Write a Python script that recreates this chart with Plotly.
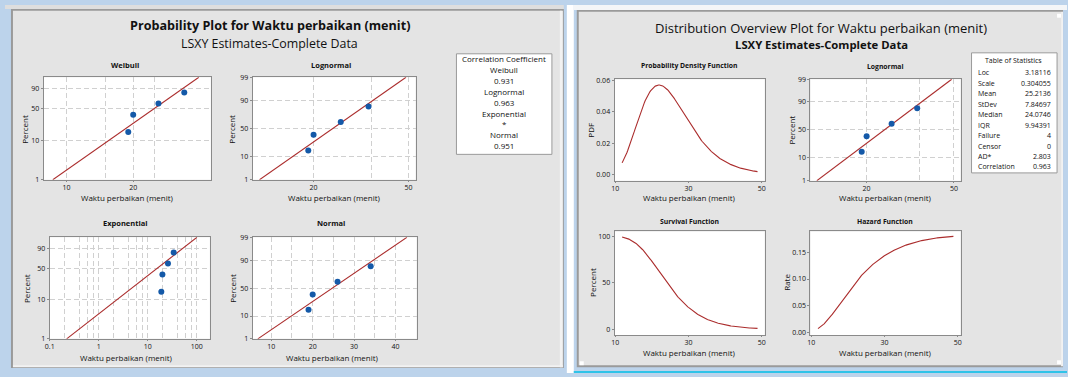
import math
import plotly.graph_objects as go

W, H = 1068, 377
FONT = "Open Sans"

# ---- data ----
waktu = [19, 20, 26, 34]                      # repair times (minutes)
dist_names = ["Weibull", "Lognormal", "Exponential", "Normal"]
corr_values = ["0.931", "0.963", "*", "0.951"]
stat_labels = ["Loc", "Scale", "Mean", "StDev", "Median", "IQR",
               "Failure", "Censor", "AD*", "Correlation"]
stat_values = ["3.18116", "0.304055", "25.2136", "7.84697", "24.0746",
               "9.94391", "4", "0", "2.803", "0.963"]
ln_loc, ln_scale = 3.18116, 0.304055
pct_ticks_full = [1, 10, 50, 90, 99]
pct_ticks_ev = [1, 10, 50, 90]

RED = "#ab2d2d"
BLUE = "#1459a8"
GRID = "#d0d0d0"
DASH = "5px,3px"
FRAME = "#8a8a8a"
PANEL = "#e4e4e4"
TXT = "#111111"


# ---- probability helpers ----
def norm_cdf(z):
    return 0.5 * (1 + math.erf(z / math.sqrt(2)))


def norm_ppf(p):
    lo, hi = -10.0, 10.0
    for _ in range(100):
        mid = 0.5 * (lo + hi)
        if norm_cdf(mid) < p:
            lo = mid
        else:
            hi = mid
    return 0.5 * (lo + hi)


def sev(p):
    return math.log(-math.log(1 - p))


n = len(waktu)
xs = sorted(waktu)
ranks = [(i + 1 - 0.3) / (n + 0.4) for i in range(n)]       # median ranks
zr = [norm_ppf(r) for r in ranks]
wr = [sev(r) for r in ranks]
lnx = [math.log(v) for v in xs]


def lsxy(xv, yv):
    mx, my = sum(xv) / len(xv), sum(yv) / len(yv)
    sxy = sum((a - mx) * (b - my) for a, b in zip(xv, yv))
    sxx = sum((b - my) ** 2 for b in yv)
    slope = sxy / sxx
    return mx - slope * my, slope       # x = a + b*y


wb_a, wb_b = lsxy(lnx, wr)
no_a, no_b = lsxy(xs, zr)
u = [-math.log(1 - r) for r in ranks]
ex_theta = sum(a * b for a, b in zip(xs, u)) / sum(b * b for b in u)

p_line = [0.01 + 0.98 * k / 40 for k in range(41)]


def px(x0, x1):
    return [x0 / W, x1 / W]


def py(top, bottom):
    return [1 - bottom / H, 1 - top / H]


fig = go.Figure()
layout = {}


def base_axis(**kw):
    d = dict(showline=True, mirror=True, linecolor=FRAME, linewidth=1,
             ticks="outside", ticklen=2, tickcolor=FRAME, tickwidth=1,
             tickfont=dict(size=7, family=FONT, color=TXT),
             showgrid=True, gridcolor=GRID, griddash=DASH, gridwidth=1,
             zeroline=False, fixedrange=True)
    d.update(kw)
    return d


def set_axes(i, xdom, ydom, xkw, ykw):
    xa = "xaxis" if i == 1 else f"xaxis{i}"
    ya = "yaxis" if i == 1 else f"yaxis{i}"
    layout[xa] = base_axis(domain=xdom, anchor=f"y{i if i > 1 else ''}", ticklen=1, **xkw)
    layout[ya] = base_axis(domain=ydom, anchor=f"x{i if i > 1 else ''}", **ykw)


def ref(i):
    return ("x" if i == 1 else f"x{i}"), ("y" if i == 1 else f"y{i}")


def add_prob(i, xline, yline, ypts):
    xr, yr = ref(i)
    fig.add_trace(go.Scatter(x=xline, y=yline, mode="lines", xaxis=xr, yaxis=yr,
                             line=dict(color=RED, width=1.1), hoverinfo="skip"))
    fig.add_trace(go.Scatter(x=xs, y=ypts, mode="markers", xaxis=xr, yaxis=yr,
                             marker=dict(color=BLUE, size=6)))


def minor_grid(vals):
    return dict(tickvals=vals, showgrid=True, gridcolor=GRID, griddash=DASH, ticklen=0)


ev_y = dict(range=[sev(0.01), sev(0.99)], tickvals=[sev(t / 100) for t in pct_ticks_ev],
            ticktext=[str(t) for t in pct_ticks_ev])
nz_y = dict(range=[norm_ppf(0.01), norm_ppf(0.99)],
            tickvals=[norm_ppf(t / 100) for t in pct_ticks_full],
            ticktext=[str(t) for t in pct_ticks_full])

# 1 Weibull
set_axes(1, px(39, 207), py(74, 179),
         dict(type="log", range=[math.log10(7.9), math.log10(44.8)], tickvals=[10, 20],
              minor=minor_grid([15, 25])),
         ev_y)
add_prob(1, [math.exp(wb_a + wb_b * sev(p)) for p in p_line], [sev(p) for p in p_line], wr)

# 2 Lognormal
ln_x = dict(type="log", range=[math.log10(11.1), math.log10(53.6)], tickvals=[20, 50],
            minor=minor_grid([35]))
set_axes(2, px(249, 413), py(74, 179), ln_x, nz_y)
add_prob(2, [math.exp(ln_loc + ln_scale * norm_ppf(p)) for p in p_line],
         [norm_ppf(p) for p in p_line], zr)

# 3 Exponential
minor_ex = [m * 10 ** e for e in (-1, 0, 1) for m in (2, 4, 6, 8)]
set_axes(3, px(45, 206), py(238, 342),
         dict(type="log", range=[-1, 2.27], tickvals=[0.1, 1, 10, 100],
              ticktext=["0.1", "1", "10", "100"], minor=minor_grid(minor_ex)),
         ev_y)
add_prob(3, [ex_theta * (-math.log(1 - p)) for p in p_line], [sev(p) for p in p_line], wr)

# 4 Normal
set_axes(4, px(249, 414), py(238, 342),
         dict(range=[5.5, 45.1], tickvals=[10, 20, 30, 40], minor=minor_grid([15, 25, 35])),
         nz_y)
add_prob(4, [no_a + no_b * norm_ppf(p) for p in p_line], [norm_ppf(p) for p in p_line], zr)

# distribution overview curves (lognormal with the table's Loc/Scale)
t_lo = math.exp(ln_loc + ln_scale * norm_ppf(0.01))
t_hi = math.exp(ln_loc + ln_scale * norm_ppf(0.99))
tt = [t_lo + (t_hi - t_lo) * k / 200 for k in range(201)]
pdf = [math.exp(-(math.log(t) - ln_loc) ** 2 / (2 * ln_scale ** 2)) /
       (t * ln_scale * math.sqrt(2 * math.pi)) for t in tt]
surv = [1 - norm_cdf((math.log(t) - ln_loc) / ln_scale) for t in tt]
haz = [f / s for f, s in zip(pdf, surv)]

lin_x = dict(range=[9.8, 50.8], tickvals=[10, 30, 50], showgrid=False)

# 5 PDF
set_axes(5, px(613, 764), py(76, 180), lin_x,
         dict(range=[-0.004, 0.0608], tickvals=[0, 0.02, 0.04, 0.06],
              ticktext=["0.00", "0.02", "0.04", "0.06"], showgrid=False))
fig.add_trace(go.Scatter(x=tt, y=pdf, mode="lines", xaxis="x5", yaxis="y5",
                         line=dict(color=RED, width=1.1)))

# 6 Lognormal (overview)
set_axes(6, px(810, 961), py(76, 180), ln_x, nz_y)
add_prob(6, [math.exp(ln_loc + ln_scale * norm_ppf(p)) for p in p_line],
         [norm_ppf(p) for p in p_line], zr)

# 7 Survival
set_axes(7, px(613, 764), py(232, 338), lin_x,
         dict(range=[-6, 105], tickvals=[0, 50, 100], showgrid=False))
fig.add_trace(go.Scatter(x=tt, y=[s * 100 for s in surv], mode="lines", xaxis="x7", yaxis="y7",
                         line=dict(color=RED, width=1.1)))

# 8 Hazard
set_axes(8, px(810, 961), py(232, 338), lin_x,
         dict(range=[-0.0042, 0.1887], tickvals=[0, 0.05, 0.10, 0.15],
              ticktext=["0.00", "0.05", "0.10", "0.15"], showgrid=False))
fig.add_trace(go.Scatter(x=tt, y=haz, mode="lines", xaxis="x8", yaxis="y8",
                         line=dict(color=RED, width=1.1)))


# ---- text ----
def ann(text, x, y, size, bold=False, angle=0, xanchor="center", color=TXT):
    return dict(text=f"<b>{text}</b>" if bold else text, x=x / W, y=1 - y / H,
                xref="paper", yref="paper", showarrow=False, xanchor=xanchor,
                yanchor="middle", textangle=angle,
                font=dict(size=size, family=FONT, color=color))


XL = "Waktu perbaikan (menit)"
anns = [
    ann("Probability Plot for Waktu perbaikan (menit)", 266, 21, 12.6, bold=True),
    ann("LSXY Estimates-Complete Data", 266, 39, 12.4),
    ann("Distribution Overview Plot for Waktu perbaikan (menit)", 821, 24, 13),
    ann("LSXY Estimates-Complete Data", 821, 40, 11.3, bold=True),
]
for name, xc, yc in [("Weibull", 121, 61), ("Lognormal", 328, 61),
                     ("Exponential", 121, 223), ("Normal", 328, 223)]:
    anns.append(ann(name, xc, yc, 7.5, bold=True))
for name, xc, yc in [("Probability Density Function", 688, 62), ("Lognormal", 885, 63),
                     ("Survival Function", 688, 222), ("Hazard Function", 885, 222)]:
    anns.append(ann(name, xc, yc, 6.8, bold=True))
for xc, yc in [(123, 197), (331, 197), (122, 361), (329, 361),
               (688, 197), (885, 197), (688, 356), (885, 356)]:
    anns.append(ann(XL, xc, yc, 8))
for lab, xc, yc in [("Percent", 20, 127), ("Percent", 228, 127), ("Percent", 21, 290),
                    ("Percent", 228, 290), ("PDF", 589, 128), ("Percent", 791, 128),
                    ("Percent", 591, 284), ("Rate", 786, 284)]:
    anns.append(ann(lab, xc, yc, 8, angle=-90))

# correlation coefficient box
anns.append(ann("Correlation Coefficient", 502, 55, 8))
for k, (nm, cv) in enumerate(zip(dist_names, corr_values)):
    anns.append(ann(nm, 502, 66.3 + 22.2 * k, 8))
    anns.append(ann(cv, 502, 77.5 + 22.2 * k, 8))

# table of statistics
anns.append(ann("Table of Statistics", 1014, 57, 7))
for k, (lab, val) in enumerate(zip(stat_labels, stat_values)):
    yk = 69.3 + 10.74 * k
    anns.append(ann(lab, 976, yk, 7, xanchor="left"))
    anns.append(ann(val, 1054, yk, 7, xanchor="right"))


# ---- window frames ----
def rect(x0, y0, x1, y1, fill=None, line=None, lw=1):
    return dict(type="rect", xref="paper", yref="paper", layer="below",
                x0=x0 / W, x1=x1 / W, y0=1 - y1 / H, y1=1 - y0 / H,
                fillcolor=fill or "rgba(0,0,0,0)",
                line=dict(color=line or "rgba(0,0,0,0)", width=lw if line else 0))


shapes = [
    rect(0, 0, 562, 4, "#dedede"),
    rect(6, 4, 562, 372, "#9a9a9a"),
    rect(8, 6, 560, 370, PANEL),
    rect(558, 6, 561, 371, "#f2f2f2"),
    rect(8, 369, 561, 371, "#f2f2f2"),
    rect(565, 0, 572, 377, "#ffffff"),
    rect(572, 0, 1068, 5, "#f4f6f8"),
    rect(575, 5, 1064, 371, "#9a9a9a"),
    rect(577, 7, 1062, 369, PANEL),
    rect(1062, 7, 1064, 370, "#f2f2f2"),
    rect(1058, 9, 1062, 13, "#ffffff"),
    rect(578, 365, 582, 369, "#ffffff"),
    rect(1058, 364, 1062, 368, "#ffffff"),
    rect(572, 375, 1068, 377, "#2fc3e8"),
    rect(454, 50, 550, 153, "#ffffff", "#9a9a9a"),
    rect(972, 49, 1058, 172, "#ffffff", "#9a9a9a"),
]
for x0, x1, y0, y1 in [(39, 207, 74, 179), (249, 413, 74, 179), (45, 206, 238, 342),
                       (249, 414, 238, 342), (613, 764, 76, 180), (810, 961, 76, 180),
                       (613, 764, 232, 338), (810, 961, 232, 338)]:
    shapes.append(rect(x0, y0, x1, y1, "#ffffff"))

fig.update_layout(
    width=W, height=H, margin=dict(l=0, r=0, t=0, b=0),
    paper_bgcolor="#bcd3eb", plot_bgcolor="rgba(0,0,0,0)",
    showlegend=False, annotations=anns, shapes=shapes,
    font=dict(family=FONT), **layout,
)
fig.write_html("out.html", config={"displayModeBar": False})
